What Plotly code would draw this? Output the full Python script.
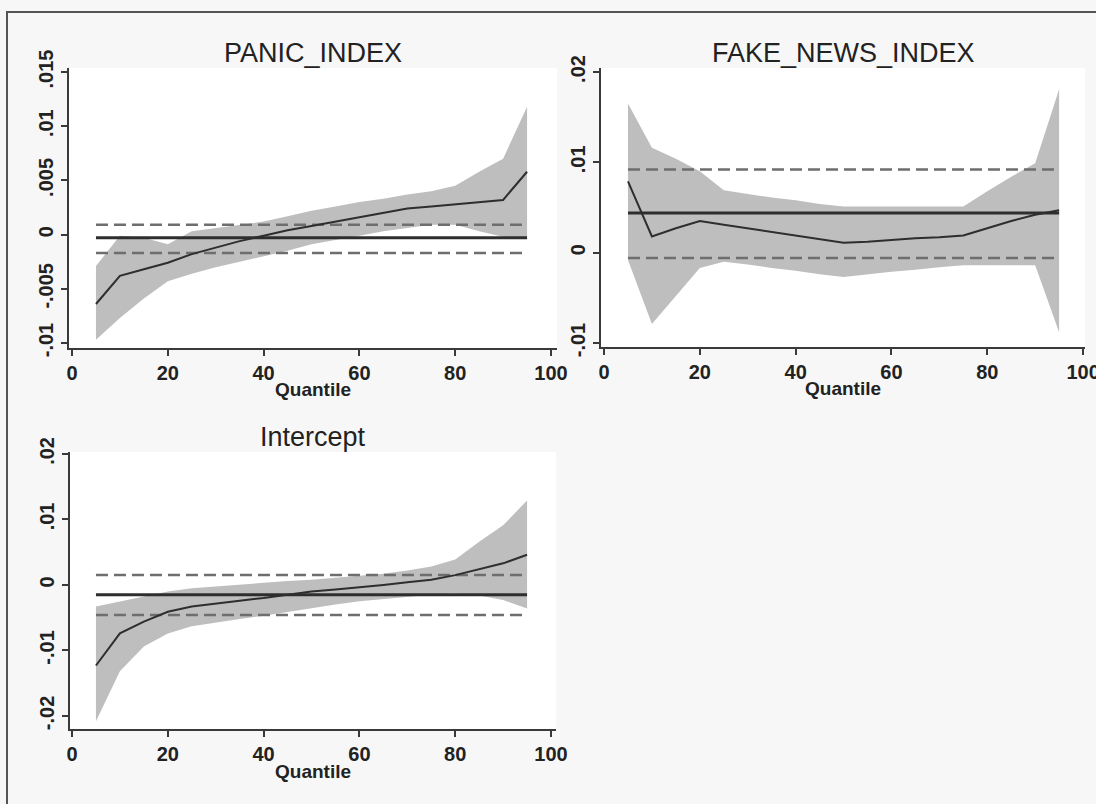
import plotly.graph_objects as go

W, H = 1096, 804

# ---------------- data ----------------
quantiles = [5, 10, 15, 20, 25, 30, 35, 40, 45, 50, 55, 60, 65, 70, 75, 80, 85, 90, 95]

panic_coef = [-0.0064, -0.0038, -0.0032, -0.0026, -0.0018, -0.0012, -0.0006, -0.0001, 0.0004, 0.0008,
              0.0012, 0.0016, 0.0020, 0.0024, 0.0026, 0.0028, 0.0030, 0.0032, 0.0058]
panic_upper = [-0.0029, -0.0001, -0.0003, -0.0009, 0.0003, 0.0006, 0.0009, 0.0012, 0.0017, 0.0022,
               0.0026, 0.0030, 0.0033, 0.0037, 0.0040, 0.0045, 0.0058, 0.0070, 0.0118]
panic_lower = [-0.0097, -0.0077, -0.0059, -0.0043, -0.0036, -0.0030, -0.0025, -0.0020, -0.0015, -0.0009,
               -0.0005, -0.0001, 0.0003, 0.0006, 0.0009, 0.0009, 0.0003, -0.0002, -0.0003]
panic_ols = -0.0003
panic_ols_ci = [-0.0017, 0.0009]

fake_coef = [0.0079, 0.0018, 0.0027, 0.0035, 0.0031, 0.0027, 0.0023, 0.0019, 0.0015, 0.0011,
             0.0012, 0.0014, 0.0016, 0.0017, 0.0019, 0.0027, 0.0035, 0.0042, 0.0047]
fake_upper = [0.0165, 0.0116, 0.0104, 0.0090, 0.0069, 0.0065, 0.0061, 0.0058, 0.0054, 0.0051,
              0.0051, 0.0051, 0.0051, 0.0051, 0.0051, 0.0068, 0.0084, 0.0099, 0.0181]
fake_lower = [-0.0008, -0.0079, -0.0048, -0.0017, -0.0010, -0.0013, -0.0017, -0.0020, -0.0024, -0.0027,
              -0.0024, -0.0021, -0.0019, -0.0016, -0.0014, -0.0014, -0.0014, -0.0014, -0.0088]
fake_ols = 0.0044
fake_ols_ci = [-0.0006, 0.0092]

inter_coef = [-0.0123, -0.0074, -0.0056, -0.0041, -0.0033, -0.0028, -0.0024, -0.0020, -0.0015, -0.0010,
              -0.0007, -0.0004, 0.0000, 0.0004, 0.0008, 0.0015, 0.0024, 0.0033, 0.0046]
inter_upper = [-0.0033, -0.0025, -0.0018, -0.0010, -0.0005, -0.0002, 0.0001, 0.0003, 0.0006, 0.0008,
               0.0011, 0.0013, 0.0017, 0.0022, 0.0028, 0.0039, 0.0066, 0.0091, 0.0129]
inter_lower = [-0.0208, -0.0132, -0.0094, -0.0074, -0.0063, -0.0057, -0.0052, -0.0047, -0.0042, -0.0036,
               -0.0030, -0.0025, -0.0021, -0.0018, -0.0015, -0.0013, -0.0016, -0.0023, -0.0036]
inter_ols = -0.0015
inter_ols_ci = [-0.0046, 0.0015]

panel_titles = ["PANIC_INDEX", "FAKE_NEWS_INDEX", "Intercept"]
x_tickvals = [0, 20, 40, 60, 80, 100]
x_ticktext = ["0", "20", "40", "60", "80", "100"]
y_tickvals_1 = [-0.01, -0.005, 0, 0.005, 0.01, 0.015]
y_ticktext_1 = ["-.01", "-.005", "0", ".005", ".01", ".015"]
y_tickvals_2 = [-0.01, 0, 0.01, 0.02]
y_ticktext_2 = ["-.01", "0", ".01", ".02"]
y_tickvals_3 = [-0.02, -0.01, 0, 0.01, 0.02]
y_ticktext_3 = ["-.02", "-.01", "0", ".01", ".02"]

# ---------------- styling ----------------
FONT = "Liberation Sans"
TXT = "#222222"
AX = "#3a3a3a"
BAND = "#bebebe"
LINE = "#2e2e2e"
DASH = "#6e6e6e"


def px_x(p):
    return p / W


def px_y(p):
    return 1 - p / H


# pixel boxes: (left, right, top, bottom)
boxes = [(69, 557, 68, 348), (601, 1085, 68, 347), (70, 556, 452, 729)]
xranges = [[-0.63, 101.25], [-0.63, 100.4], [-0.42, 101.04]]
yranges = [[-0.01046, 0.01537], [-0.01044, 0.02044], [-0.0220, 0.0203]]
yticks = [(y_tickvals_1, y_ticktext_1), (y_tickvals_2, y_ticktext_2), (y_tickvals_3, y_ticktext_3)]

series = [
    (panic_coef, panic_upper, panic_lower, panic_ols, panic_ols_ci),
    (fake_coef, fake_upper, fake_lower, fake_ols, fake_ols_ci),
    (inter_coef, inter_upper, inter_lower, inter_ols, inter_ols_ci),
]

fig = go.Figure()
layout = dict(
    width=W, height=H, margin=dict(l=0, r=0, t=0, b=0, autoexpand=False),
    paper_bgcolor="#f7f7f7", plot_bgcolor="#ffffff", showlegend=False,
    font=dict(family=FONT, color=TXT, size=20),
)
annotations = []
tickfont = dict(size=20, family=FONT + ", Arial", color=TXT, weight="bold")

for i, (coef, up, lo, ols, ci) in enumerate(series):
    n = i + 1
    xa = "x" if n == 1 else f"x{n}"
    ya = "y" if n == 1 else f"y{n}"
    # band
    fig.add_trace(go.Scatter(
        x=quantiles + quantiles[::-1], y=up + lo[::-1], fill="toself",
        fillcolor=BAND, line=dict(width=0), mode="lines", hoverinfo="skip",
        xaxis=xa, yaxis=ya))
    q0, q1 = quantiles[0], quantiles[-1]
    # OLS CI dashed
    for v in ci:
        fig.add_trace(go.Scatter(x=[q0, q1], y=[v, v], mode="lines",
                                 line=dict(color=DASH, width=2.5, dash="12px,6px"),
                                 xaxis=xa, yaxis=ya))
    # OLS solid
    fig.add_trace(go.Scatter(x=[q0, q1], y=[ols, ols], mode="lines",
                             line=dict(color=LINE, width=3), xaxis=xa, yaxis=ya))
    # quantile coefficient
    fig.add_trace(go.Scatter(x=quantiles, y=coef, mode="lines",
                             line=dict(color=LINE, width=2), xaxis=xa, yaxis=ya))

    l, r, t, b = boxes[i]
    xkey = "xaxis" if n == 1 else f"xaxis{n}"
    ykey = "yaxis" if n == 1 else f"yaxis{n}"
    layout[xkey] = dict(
        domain=[px_x(l), px_x(r)], range=xranges[i], anchor=ya, automargin=False,
        tickvals=x_tickvals, ticktext=x_ticktext, showgrid=False, zeroline=False,
        showline=True, linecolor=AX, linewidth=2, ticks="outside", ticklen=6,
        tickwidth=2, tickcolor=AX, tickfont=tickfont, ticklabeloverflow="allow")
    tv, tt = yticks[i]
    layout[ykey] = dict(
        domain=[px_y(b), px_y(t)], range=yranges[i], anchor=xa, automargin=False,
        tickvals=tv, ticktext=tt, showgrid=False, zeroline=False,
        showline=True, linecolor=AX, linewidth=2, ticks="outside", ticklen=6,
        tickwidth=2, tickcolor=AX, tickangle=-90, tickfont=tickfont,
        ticklabeloverflow="allow")

    cx = (l + r) / 2
    annotations.append(dict(text=panel_titles[i], x=px_x(cx), y=px_y(t - 15),
                            xref="paper", yref="paper", showarrow=False,
                            xanchor="center", yanchor="middle",
                            font=dict(size=27, family=FONT, color=TXT)))
    annotations.append(dict(text="Quantile", x=px_x(cx), y=px_y(b + 42),
                            xref="paper", yref="paper", showarrow=False,
                            xanchor="center", yanchor="middle",
                            font=dict(size=19, family=FONT, color=TXT, weight="bold")))

layout["annotations"] = annotations
layout["shapes"] = [dict(type="rect", xref="paper", yref="paper",
                         x0=px_x(7), y0=px_y(12), x1=1.05, y1=-0.05,
                         line=dict(color="#555555", width=2), layer="below")]
fig.update_layout(**layout)
fig.write_html(
    "out.html",
    config={"displayModeBar": False},
    post_script="document.body.style.margin='0';document.body.style.overflow='hidden';",
)
